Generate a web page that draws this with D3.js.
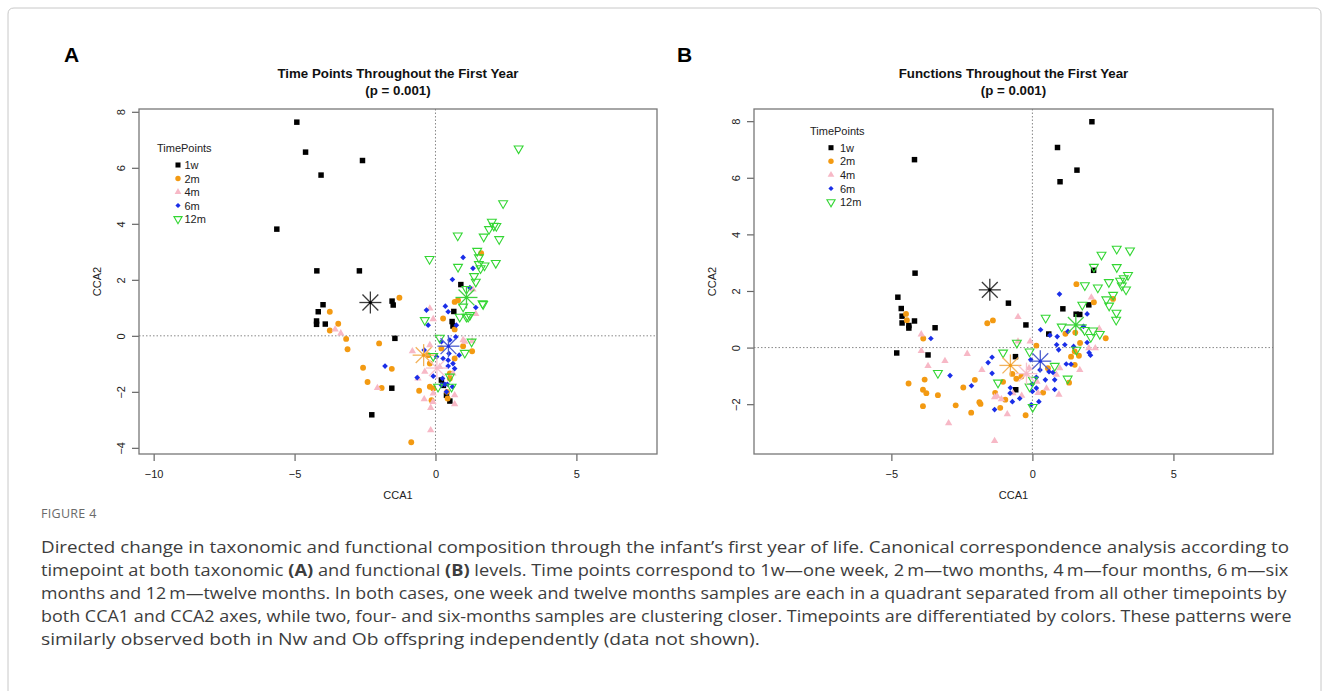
<!DOCTYPE html>
<html><head><meta charset="utf-8">
<script src="https://cdn.jsdelivr.net/npm/d3@7"></script>
<style>body{margin:0;background:#fff}svg{display:block}</style>
</head><body><svg id="c" width="1329" height="691"></svg>
<script>
// ---------- DATA ----------
const timePoints = ["1w","2m","4m","6m","12m"];
const seriesColors = ["#000000","#f39a12","#f7b8c6","#1a2ee8","#33d633"];
const starColors = ["#3a3a3a","#f2b25a","#f6c4cf","#4d5fd0","#43d043"];

const A_1w = [[-4.92,7.63],[-4.61,6.56],[-4.06,5.74],[-2.59,6.26],[-5.63,3.81],[-4.21,2.32],[-2.70,2.32],
[-3.99,1.11],[-4.16,0.86],[-4.22,0.53],[-4.22,0.41],[-3.91,0.42],[-2.26,-2.82],
[-1.54,1.24],[-1.50,1.10],[-1.44,-0.09],[-1.55,-1.87],
[0.90,1.83],[0.65,0.87],[0.59,0.51],[0.62,0.35],[0.21,-1.58],[0.28,-1.77],[0.39,-2.12],[0.51,-2.33]];
const A_2m = [[-3.75,0.86],[-3.45,0.43],[-3.75,0.19],[-3.17,-0.11],[-3.12,-0.48],[-2.57,-1.14],[-2.41,-1.65],[-2.0,-0.27],
[-1.28,1.36],[-1.55,-1.18],[-1.91,-1.86],[-0.86,-3.80],
[1.62,2.95],[0.68,1.21],[0.80,1.27],[0.27,0.62],[0.68,0.23],[0.98,-0.37],[1.30,-0.55],[-0.26,-0.69],[0.21,-0.45],
[-0.58,-1.96],[-0.2,-1.82],[-0.08,-1.88],[-0.14,-2.30],[0.51,-1.34],[0.51,-1.52],[0.41,-2.0],[0.43,-2.24],[-0.2,-0.99],[0.68,-0.81]];
const A_4m = [[-3.56,0.23],[-3.36,0.09],[-2.06,-1.86],
[-0.2,0.98],[-0.08,0.60],[-0.82,-0.55],[-0.2,-0.33],[-0.62,-1.52],[-0.38,-1.28],[-0.40,-2.26],[-0.17,-2.57],[-0.17,-3.37],
[0.68,-2.44],[0.68,-2.12],[1.43,0.78],[1.30,-0.19],[1.04,-0.21],[-0.09,-2.36],[1.33,1.66],[0.15,-1.11],[-0.08,-2.06],[0.62,-1.34],[0.98,-0.15]];
const A_6m = [[-1.79,-1.08],[0.98,2.80],[1.33,2.41],[0.60,2.01],[1.22,1.72],[-0.32,0.92],[0.35,1.06],[0.45,0.86],[1.43,1.01],
[-0.26,0.38],[0.74,0.38],[0.51,-0.15],[0.21,-0.21],[-0.40,-0.51],[0.04,-0.75],[0.48,-0.63],[0.84,-0.69],[0.45,-0.87],
[0.62,-0.99],[0.68,-1.17],[0.45,-1.08],[-0.65,-1.49],[-0.08,-1.44],[0.25,-1.52],[0.21,-1.76],[0.42,-1.73],[0.60,-1.82],
[0.39,-2.0],[0.72,-0.04],[0.27,-0.81],[0.33,-1.73]];
const A_12m = [[2.95,6.69],[2.40,4.73],[2.0,4.07],[2.07,3.93],[2.16,3.92],[1.90,3.81],[0.79,3.58],[1.71,3.54],[2.26,3.45],
[-0.21,2.74],[1.48,3.03],[1.54,2.80],[0.80,2.46],[1.54,2.56],[1.74,2.51],[1.60,2.41],[2.14,2.60],[1.37,2.13],[1.43,1.93],
[1.10,1.67],[1.67,1.16],[0.98,1.04],[1.10,0.68],[1.22,0.74],[0.86,0.68],[-0.38,0.56],[0.15,-0.07],[1.28,-0.21],[1.04,-0.61],
[-0.08,-0.72],[0.51,-1.46],[0.57,-1.82],[0.09,-1.82],[1.69,1.13],[1.16,0.68]];
const A_centroids = [[-2.31,1.19],[-0.42,-0.69],[0.05,-1.15],[0.46,-0.37],[1.10,1.37]];

const B_1w = [[-4.18,6.64],[-4.16,2.63],[2.11,7.98],[0.89,7.07],[1.58,6.27],[0.98,5.86],[2.17,2.73],
[-4.77,1.78],[-4.65,1.38],[-4.62,1.11],[-4.62,0.87],[-4.38,0.78],[-4.38,0.69],[-4.18,0.94],[-3.45,0.70],[-4.81,-0.19],[-3.70,-0.26],
[-0.85,1.57],[-0.23,0.80],[0.58,0.48],[-0.60,-0.32],[-0.59,-1.49],[1.08,1.37],[1.55,1.18],[1.68,1.17],[2.0,1.51]];
const B_2m = [[-4.48,1.19],[-4.45,0.97],[-3.87,0.32],[-4.39,-1.27],[-3.82,-1.13],[-3.88,-1.49],[-3.76,-1.61],[-3.35,-1.68],
[-3.88,-2.07],[-2.72,-2.04],[-2.45,-1.41],[-2.04,-1.14],[-1.84,-1.99],[-1.88,-1.93],[-2.17,-2.30],[-1.60,0.86],[-1.40,0.96],
[-1.32,-1.60],[-1.14,-2.13],[-1.04,-1.21],[-0.96,-1.84],[-0.71,-0.93],[-0.57,-1.10],[-0.39,-1.02],[-0.24,-2.39],[0.14,0.07],
[0.38,-1.59],[1.56,2.24],[2.18,1.60],[2.86,1.72],[1.17,0.49],[1.52,0.53],[1.69,0.16],[1.50,-0.14],[1.37,-0.32],[1.50,-0.61],
[1.65,-0.29],[1.30,-1.24],[2.60,0.33],[0.55,-0.73]];
const B_4m = [[-3.94,0.47],[-3.94,-0.12],[-3.70,-0.65],[-3.10,-0.47],[-2.31,-0.22],[-1.79,-0.79],[-2.97,-2.67],[-1.34,-1.75],
[-1.25,-1.72],[-1.34,-3.30],[-1.10,-1.82],[-0.89,-2.35],[-0.51,1.08],[-0.51,0.22],[-0.08,0.22],[-0.12,-0.73],[-0.21,-0.94],
[0.16,-1.20],[0.50,-1.44],[0.20,-1.60],[0.94,-1.66],[0.85,-0.96],[0.97,-0.73],[2.09,1.77],[2.37,0.67],[2.23,-0.02],[2.0,-0.02],
[1.68,-0.79],[-0.38,-1.70],[-0.69,-1.61]];
const B_6m = [[-3.60,0.32],[-2.92,-0.99],[-2.16,-1.35],[-1.57,-0.53],[-1.43,-0.34],[-1.43,-0.91],[-1.34,-2.19],
[-0.78,-1.42],[-0.79,-1.61],[-0.71,-1.91],[-0.45,-1.80],[0.0,-1.55],[0.14,-1.05],[0.27,-0.79],[0.59,-0.85],[0.73,-0.88],
[0.79,-1.14],[0.46,-1.14],[0.79,-1.48],[0.14,-1.43],[-0.01,-1.29],[0.29,0.63],[0.62,0.44],[0.88,0.39],[0.96,1.89],[1.26,0.57],
[1.94,1.19],[1.81,0.75],[0.86,0.10],[0.93,-0.08],[1.15,0.10],[1.46,0.04],[1.20,-0.58],[1.37,-0.59],[2.01,-0.18],[2.06,-0.27],
[1.94,0.18],[-0.06,-0.43],[0.23,-1.91],[-0.04,-2.02]];
const B_12m = [[2.45,3.28],[2.99,3.49],[3.46,3.43],[2.18,2.85],[2.99,2.84],[1.86,2.20],[2.32,2.12],[2.71,2.31],[3.11,2.36],
[3.24,2.45],[3.39,2.56],[3.17,2.19],[3.32,2.05],[2.86,1.86],[2.62,1.70],[2.72,1.48],[2.98,1.23],[2.97,0.98],[1.77,1.51],
[0.47,1.05],[1.04,0.74],[1.85,0.62],[2.15,0.60],[2.07,0.37],[2.39,0.48],[1.56,-0.08],[-0.10,-0.14],[-0.55,0.17],[-1.04,-0.18],
[0.79,-0.65],[1.25,-1.10],[0.02,-1.14],[-0.10,-1.38],[0.01,-2.10],[-3.35,-0.90],[-1.22,-1.24]];
const B_centroids = [[-1.51,2.04],[-0.78,-0.63],[-0.21,-0.92],[0.28,-0.48],[1.54,0.80]];

const A_xTicks = [-10,-5,0,5];
const A_yTicks = [-4,-2,0,2,4,6,8];
const B_xTicks = [-5,0,5];
const B_yTicks = [-2,0,2,4,6,8];

const titleA = ["Time Points Throughout the First Year","(p = 0.001)"];
const titleB = ["Functions Throughout the First Year","(p = 0.001)"];
const legendTitle = "TimePoints";
const captionHead = "FIGURE 4";
const captionLines = [
 [["Directed change in taxonomic and functional composition through the infant\u2019s first year of life. Canonical correspondence analysis according to",0]],
 [["timepoint at both taxonomic ",0],["(A)",1],[" and functional ",0],["(B)",1],[" levels. Time points correspond to 1w\u2014one week, 2\u2009m\u2014two months, 4\u2009m\u2014four months, 6\u2009m\u2014six",0]],
 [["months and 12\u2009m\u2014twelve months. In both cases, one week and twelve months samples are each in a quadrant separated from all other timepoints by",0]],
 [["both CCA1 and CCA2 axes, while two, four- and six-months samples are clustering closer. Timepoints are differentiated by colors. These patterns were",0]],
 [["similarly observed both in Nw and Ob offspring independently (data not shown).",0]]
];
const captionLineEnds = [1290,1289,1288,1292,760];

// ---------- DRAW ----------
const svg = d3.select("#c");
svg.append("rect").attr("width",1329).attr("height",691).attr("fill","#fff");
svg.append("path").attr("d","M8,691 L8,14 Q8,8 14,8 L1315,8 Q1321,8 1321,14 L1321,691")
  .attr("fill","none").attr("stroke","#c8c8c8").attr("stroke-width",1);

const diamond = {draw(ctx,size){const r=Math.sqrt(size/2);ctx.moveTo(0,-r);ctx.lineTo(r,0);ctx.lineTo(0,r);ctx.lineTo(-r,0);ctx.closePath();}};
const shapes = [
  {type:d3.symbolSquare, size:30, fill:true, rot:0},
  {type:d3.symbolCircle, size:27, fill:true, rot:0},
  {type:d3.symbolTriangle, size:23, fill:true, rot:0},
  {type:diamond, size:16, fill:true, rot:0},
  {type:d3.symbolTriangle, size:34, fill:false, rot:180}
];

function drawPanel(cfg){
  const g = svg.append("g");
  const x = d3.scaleLinear().domain(cfg.xDom).range([cfg.box[0], cfg.box[2]]);
  const y = d3.scaleLinear().domain(cfg.yDom).range([cfg.box[3], cfg.box[1]]);
  const font = "'Liberation Sans', Arial, sans-serif";
  const cx = (cfg.box[0]+cfg.box[2])/2;
  g.append("text").attr("x",cx).attr("y",77.5).attr("text-anchor","middle")
    .attr("font-family",font).attr("font-weight","bold").attr("font-size",13.3).attr("fill","#111").text(cfg.title[0]);
  g.append("text").attr("x",cx).attr("y",94.5).attr("text-anchor","middle")
    .attr("font-family",font).attr("font-weight","bold").attr("font-size",13.3).attr("fill","#111").text(cfg.title[1]);
  g.append("text").attr("x",cfg.letterX).attr("y",62).attr("font-family",font).attr("font-weight","bold")
    .attr("font-size",21).attr("fill","#000").text(cfg.letter);
  g.append("line").attr("x1",x(0)).attr("x2",x(0)).attr("y1",cfg.box[1]).attr("y2",cfg.box[3])
    .attr("stroke","#888").attr("stroke-dasharray","1.5,2").attr("stroke-width",1);
  g.append("line").attr("x1",cfg.box[0]).attr("x2",cfg.box[2]).attr("y1",y(0)).attr("y2",y(0))
    .attr("stroke","#888").attr("stroke-dasharray","1.5,2").attr("stroke-width",1);
  const ax = g.append("g").attr("transform",`translate(0,${cfg.box[3]})`)
    .call(d3.axisBottom(x).tickValues(cfg.xTicks).tickSize(7).tickFormat(d3.format("d")));
  ax.select(".domain").remove();
  ax.selectAll("line").attr("stroke","#666").attr("stroke-width",1.2);
  ax.selectAll("text").attr("y",16).attr("font-family",font).attr("font-size",11).attr("fill","#222");
  const ay = g.append("g").attr("transform",`translate(${cfg.box[0]},0)`)
    .call(d3.axisLeft(y).tickValues(cfg.yTicks).tickSize(7).tickFormat(d3.format("d")));
  ay.select(".domain").remove();
  ay.selectAll("line").attr("stroke","#666").attr("stroke-width",1.2);
  ay.selectAll("text").attr("x",0).attr("dy",null).attr("text-anchor","middle")
    .attr("transform","translate(-18,0) rotate(-90)").attr("dominant-baseline","central")
    .attr("font-family",font).attr("font-size",11).attr("fill","#222");
  g.append("rect").attr("x",cfg.box[0]).attr("y",cfg.box[1]).attr("width",cfg.box[2]-cfg.box[0])
    .attr("height",cfg.box[3]-cfg.box[1]).attr("fill","none").attr("stroke","#777").attr("stroke-width",1.3);
  g.append("text").attr("x",cx).attr("y",cfg.box[3]+45).attr("text-anchor","middle")
    .attr("font-family",font).attr("font-size",11).attr("fill","#222").text("CCA1");
  g.append("text").attr("transform",`translate(${cfg.box[0]-38},${(cfg.box[1]+cfg.box[3])/2}) rotate(-90)`)
    .attr("text-anchor","middle").attr("font-family",font).attr("font-size",11).attr("fill","#222").text("CCA2");
  cfg.series.forEach((data,i)=>{
    const s = shapes[i];
    const sym = d3.symbol().type(s.type).size(s.size);
    g.append("g").selectAll("path").data(data).join("path")
      .attr("d",sym)
      .attr("transform",d=>`translate(${x(d[0])},${y(d[1])})${s.rot?` rotate(${s.rot})`:""}`)
      .attr("fill",s.fill?seriesColors[i]:"none")
      .attr("stroke",s.fill?"none":seriesColors[i]).attr("stroke-width",1.1);
  });
  const R = 11, r2 = R*0.72;
  cfg.centroids.forEach((c,i)=>{
    const px = x(c[0]), py = y(c[1]);
    const sg = g.append("g").attr("stroke",starColors[i]).attr("stroke-width",1.3);
    sg.append("line").attr("x1",px-R).attr("x2",px+R).attr("y1",py).attr("y2",py);
    sg.append("line").attr("x1",px).attr("x2",px).attr("y1",py-R).attr("y2",py+R);
    sg.append("line").attr("x1",px-r2).attr("x2",px+r2).attr("y1",py-r2).attr("y2",py+r2);
    sg.append("line").attr("x1",px-r2).attr("x2",px+r2).attr("y1",py+r2).attr("y2",py-r2);
    g.append("circle").attr("cx",px).attr("cy",py).attr("r",1.6).attr("fill",seriesColors[i]);
  });
  const L = cfg.legend;
  g.append("text").attr("x",L.tx).attr("y",L.ty).attr("dominant-baseline","central")
    .attr("font-family",font).attr("font-size",11).attr("fill","#222").text(legendTitle);
  timePoints.forEach((t,i)=>{
    const s = shapes[i];
    const yy = L.y0 + i*L.dy;
    g.append("path").attr("d",d3.symbol().type(s.type).size(s.size*0.85))
      .attr("transform",`translate(${L.sx},${yy})${s.rot?` rotate(${s.rot})`:""}`)
      .attr("fill",s.fill?seriesColors[i]:"none").attr("stroke",s.fill?"none":seriesColors[i]).attr("stroke-width",1.1);
    g.append("text").attr("x",L.lx).attr("y",yy).attr("dominant-baseline","central")
      .attr("font-family",font).attr("font-size",11).attr("fill","#222").text(t);
  });
}

drawPanel({letter:"A", letterX:64, box:[139,109,657,454], xDom:[-10.52,7.86], yDom:[-4.22,8.1],
  xTicks:A_xTicks, yTicks:A_yTicks, title:titleA,
  series:[A_1w,A_2m,A_4m,A_6m,A_12m], centroids:A_centroids,
  legend:{tx:157,ty:147.5,sx:178,lx:184.5,y0:165,dy:13.5}});
drawPanel({letter:"B", letterX:677, box:[754,109,1273,454], xDom:[-9.87,8.53], yDom:[-3.76,8.43],
  xTicks:B_xTicks, yTicks:B_yTicks, title:titleB,
  series:[B_1w,B_2m,B_4m,B_6m,B_12m], centroids:B_centroids,
  legend:{tx:810,ty:131,sx:831,lx:840,y0:147.7,dy:13.6}});

// caption
const capFont = "'Open Sans','Noto Sans',sans-serif";
svg.append("text").attr("x",41).attr("y",518).attr("font-family",capFont).attr("font-size",12.5)
  .attr("letter-spacing",0.3).attr("fill","#6a6a6a").text(captionHead);
captionLines.forEach((parts,i)=>{
  const t = svg.append("text").attr("x",0).attr("y",0).attr("font-family",capFont)
    .attr("font-size",16.5).attr("fill","#3d3d3d");
  parts.forEach(p=>t.append("tspan").attr("font-weight",p[1]?"bold":"normal").text(p[0]));
  const w = t.node().getComputedTextLength();
  const k = (captionLineEnds[i]-41)/w;
  t.attr("transform",`translate(41,${553+i*23}) scale(${k},1)`);
});
</script></body></html>
